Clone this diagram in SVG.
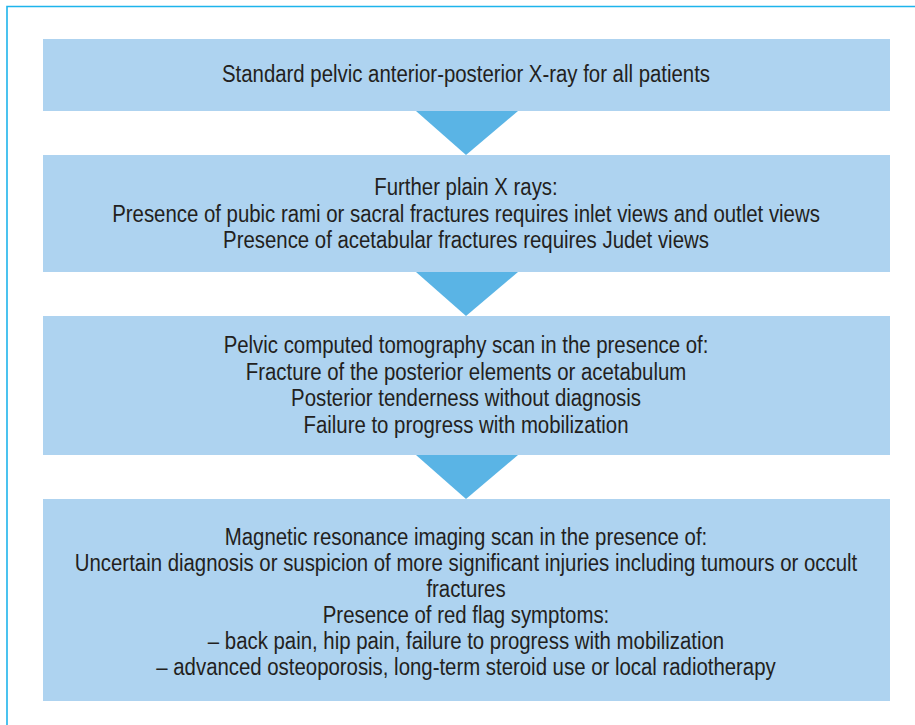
<svg xmlns="http://www.w3.org/2000/svg" width="915" height="725" viewBox="0 0 915 725">
  <style>
    .box { fill: #AED3F0; }
    .arrow { fill: #5AB4E5; }
    .frame { fill: none; stroke: #1EB4EC; stroke-width: 1.6; }
    text { font-family: "Liberation Sans Narrow", "Arial Narrow", "Liberation Sans", sans-serif; font-size: 23.3px; fill: #231F20; text-anchor: middle; }
    /* condensed lettering: narrow the regular face around the column centre */
    .cond { transform: translate(466px, 0) scale(0.875, 1); }
  </style>
  <rect width="915" height="725" fill="#FFFFFF"/>
  <path class="frame" d="M7 725 V6.5 H915"/>

  <g id="connectors">
    <polygon class="arrow" points="416,111 518,111 466,155"/>
    <polygon class="arrow" points="416,272 518,272 466,316"/>
    <polygon class="arrow" points="416,455 518,455 466,499"/>
  </g>

  <g id="node-ap-xray">
    <rect class="box" x="43" y="39" width="847" height="72"/>
    <g class="cond">
      <text x="0" y="82">Standard pelvic anterior-posterior X-ray for all patients</text>
    </g>
  </g>

  <g id="node-plain-xrays">
    <rect class="box" x="43" y="155" width="847" height="117"/>
    <g class="cond">
      <text x="0" y="195">Further plain X rays:</text>
      <text x="0" y="222">Presence of pubic rami or sacral fractures requires inlet views and outlet views</text>
      <text x="0" y="248">Presence of acetabular fractures requires Judet views</text>
    </g>
  </g>

  <g id="node-ct">
    <rect class="box" x="43" y="316" width="847" height="139"/>
    <g class="cond">
      <text x="0" y="353">Pelvic computed tomography scan in the presence of:</text>
      <text x="0" y="380">Fracture of the posterior elements or acetabulum</text>
      <text x="0" y="406">Posterior tenderness without diagnosis</text>
      <text x="0" y="433">Failure to progress with mobilization</text>
    </g>
  </g>

  <g id="node-mri">
    <rect class="box" x="43" y="499" width="847" height="202"/>
    <g class="cond">
      <text x="0" y="545">Magnetic resonance imaging scan in the presence of:</text>
      <text x="0" y="571">Uncertain diagnosis or suspicion of more significant injuries including tumours or occult</text>
      <text x="0" y="597">fractures</text>
      <text x="0" y="623">Presence of red flag symptoms:</text>
      <text x="0" y="649">– back pain, hip pain, failure to progress with mobilization</text>
      <text x="0" y="675">– advanced osteoporosis, long-term steroid use or local radiotherapy</text>
    </g>
  </g>
</svg>
